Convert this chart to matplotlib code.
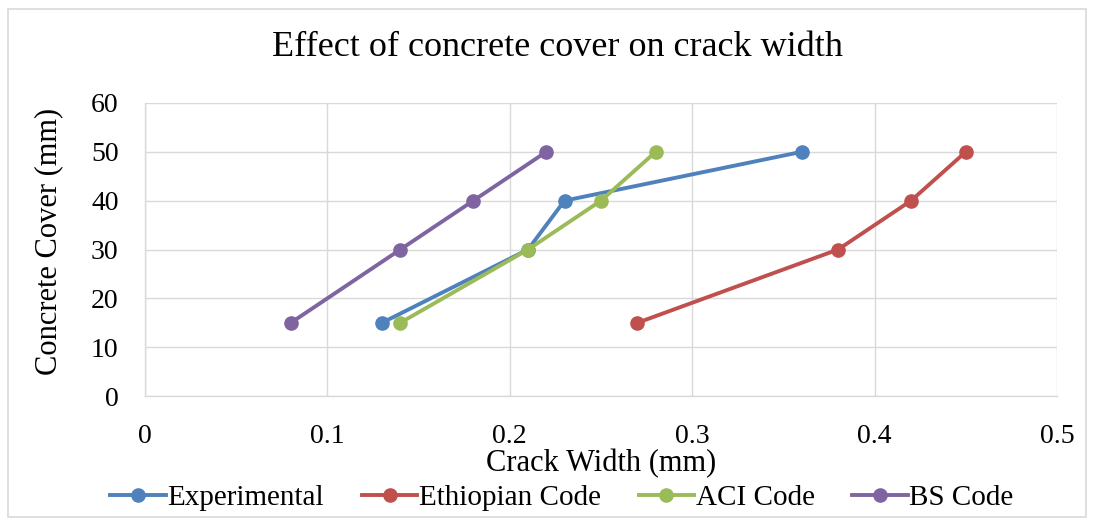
import matplotlib
matplotlib.use("Agg")
import matplotlib.pyplot as plt

plt.rcParams['font.family'] = ['Liberation Serif', 'DejaVu Serif']

cover = [15, 30, 40, 50]
experimental = [0.13, 0.21, 0.23, 0.36]
ethiopian = [0.27, 0.38, 0.42, 0.45]
aci = [0.14, 0.21, 0.25, 0.28]
bs = [0.08, 0.14, 0.18, 0.22]
series_names = ["Experimental", "Ethiopian Code", "ACI Code", "BS Code"]
colors = ["#4f81bd", "#c0504d", "#9bbb59", "#8064a2"]
x_ticks = [0, 0.1, 0.2, 0.3, 0.4, 0.5]
y_ticks = [0, 10, 20, 30, 40, 50, 60]

W, H = 1094, 526
fig = plt.figure(figsize=(W/100, H/100), dpi=100)
fig.patch.set_facecolor("white")

# figure border
fig.patches.append(plt.Rectangle((8/W, 1-517/H), (1086-8)/W, (517-9)/H,
                                 transform=fig.transFigure, fill=False,
                                 edgecolor="#d9d9d9", linewidth=1.2))

ax = fig.add_axes([145/W, 1-396/H, (1057-145)/W, (396-103)/H])
for vals, name, c in zip([experimental, ethiopian, aci, bs], series_names, colors):
    ax.plot(vals, cover, color=c, linewidth=2.8, marker='o', markersize=9.5,
            label=name)

ax.set_xlim(0, 0.5)
ax.set_ylim(0, 60)
ax.set_xticks(x_ticks)
ax.set_xticklabels([f"{v:g}" for v in x_ticks])
ax.set_yticks(y_ticks)
ax.grid(True, color="#d9d9d9", linewidth=1)
ax.set_axisbelow(True)
for s in ["top", "right"]:
    ax.spines[s].set_visible(False)
for s in ["left", "bottom"]:
    ax.spines[s].set_color("#d9d9d9")
    ax.spines[s].set_linewidth(1)
ax.tick_params(length=0, labelsize=20)
ax.tick_params(axis='y', pad=19)
ax.tick_params(axis='x', pad=20)
ax.set_xlabel("Crack Width (mm)", fontsize=22, labelpad=0)
ax.set_ylabel("Concrete Cover (mm)", fontsize=22)
ax.yaxis.set_label_coords((63-145)/912, (396-241)/293)

fig.text(558/W, 1-48/H, "Effect of concrete cover on crack width",
         fontsize=26, ha='center', va='center')

leg = fig.legend(loc='center', bbox_to_anchor=(562/W, 1-498/H), ncol=4,
                 frameon=False, fontsize=21, handlelength=1.9,
                 handletextpad=0.05, columnspacing=1.3)

fig.savefig("out.png", dpi=100)
